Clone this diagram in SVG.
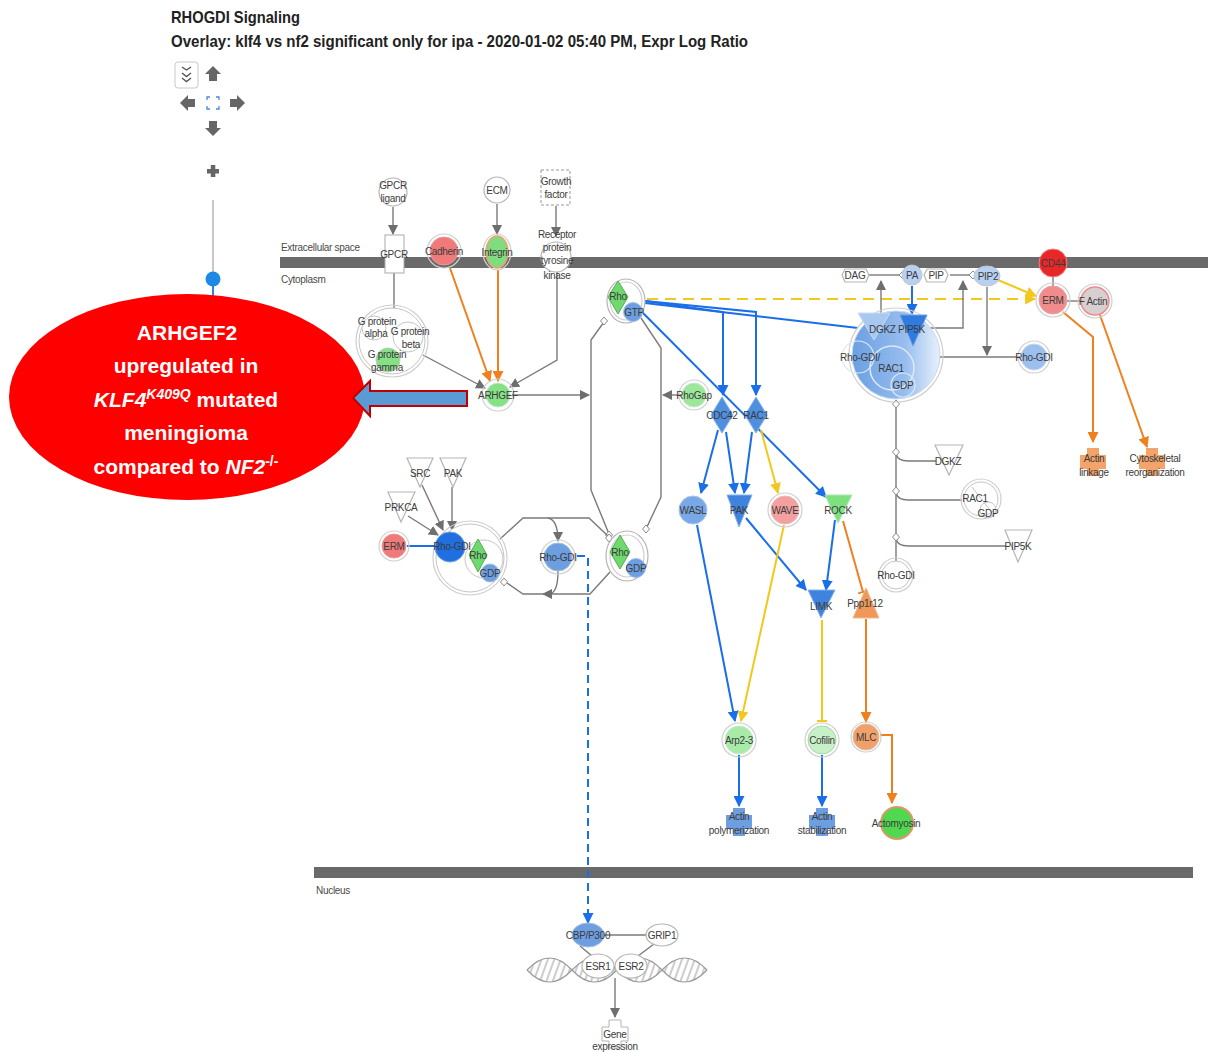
<svg xmlns="http://www.w3.org/2000/svg" width="1208" height="1052" viewBox="0 0 1208 1052">
<style>
  .lbl{font-family:"Liberation Sans",Arial,sans-serif;font-size:10px;fill:#3c3c3c;text-anchor:middle;letter-spacing:-0.3px}
  .cmp{font-family:"Liberation Sans",Arial,sans-serif;font-size:10px;fill:#4a4a4a;letter-spacing:-0.3px}
  .ttl{font-family:"Liberation Sans Narrow","Liberation Sans",Arial,sans-serif;font-weight:bold;fill:#222}
  .ring{fill:none;stroke:#cfcfcf;stroke-width:1.2}
  .outl{fill:#fff;stroke:#b5b5b5;stroke-width:1.2}
  .g{fill:none;stroke:#7a7a7a;stroke-width:1.4}
  .b{fill:none;stroke:#1a6ee8;stroke-width:2}
  .o{fill:none;stroke:#f0801e;stroke-width:2}
  .y{fill:none;stroke:#f2c81d;stroke-width:2}
  .dia{fill:#fff;stroke:#8a8a8a;stroke-width:1}
  .nav{fill:#666}
  .call{font-family:"Liberation Sans",Arial,sans-serif;font-weight:bold;font-size:21px;fill:#fff;text-anchor:middle}
</style>
<defs>
  <marker id="ah-g" viewBox="0 0 10 10" refX="9" refY="5" markerWidth="10" markerHeight="10" markerUnits="userSpaceOnUse" orient="auto"><path d="M0,0 L10,5 L0,10 z" fill="#6e6e6e"/></marker>
  <marker id="ah-b" viewBox="0 0 10 10" refX="9" refY="5" markerWidth="11" markerHeight="11" markerUnits="userSpaceOnUse" orient="auto"><path d="M0,0 L10,5 L0,10 z" fill="#1a6ee8"/></marker>
  <marker id="ah-o" viewBox="0 0 10 10" refX="9" refY="5" markerWidth="11" markerHeight="11" markerUnits="userSpaceOnUse" orient="auto"><path d="M0,0 L10,5 L0,10 z" fill="#f0801e"/></marker>
  <marker id="ah-y" viewBox="0 0 10 10" refX="9" refY="5" markerWidth="11" markerHeight="11" markerUnits="userSpaceOnUse" orient="auto"><path d="M0,0 L10,5 L0,10 z" fill="#f2c81d"/></marker>
  <marker id="tb-o" viewBox="0 0 10 10" refX="9" refY="5" markerWidth="10" markerHeight="10" markerUnits="userSpaceOnUse" orient="auto"><path d="M9,0 V10" stroke="#f0801e" stroke-width="2"/></marker>
  <marker id="tb-y" viewBox="0 0 10 10" refX="9" refY="5" markerWidth="10" markerHeight="10" markerUnits="userSpaceOnUse" orient="auto"><path d="M9,0 V10" stroke="#f2c81d" stroke-width="2"/></marker>
  <linearGradient id="cplx" x1="0" y1="0" x2="1" y2="0">
    <stop offset="0" stop-color="#6a9fe2"/><stop offset="0.6" stop-color="#97bdee"/><stop offset="1" stop-color="#e8f1fc"/>
  </linearGradient>
  <!-- function (cross) glyph -->
  <path id="fn" d="M-6,-14 h12 v7 h7 v14 h-7 v7 h-12 v-7 h-7 v-14 h7 z"/>
  <pattern id="rungs" width="6" height="30" patternUnits="userSpaceOnUse" patternTransform="rotate(20)">
    <line x1="3" y1="0" x2="3" y2="30" stroke="#9a9a9a" stroke-width="1"/>
  </pattern>
</defs>
<rect width="1208" height="1052" fill="#fff"/>

<!-- header -->
<text class="ttl" x="171" y="23" font-size="17" textLength="129" lengthAdjust="spacingAndGlyphs">RHOGDI Signaling</text>
<text class="ttl" x="171" y="47" font-size="16" textLength="577" lengthAdjust="spacingAndGlyphs">Overlay: klf4 vs nf2 significant only for ipa - 2020-01-02 05:40 PM, Expr Log Ratio</text>

<!-- navigation controls -->
<g id="nav">
  <rect x="175" y="62" width="23" height="26" rx="3" fill="#fff" stroke="#c8c8c8"/>
  <path d="M182,67 l4.5,3 l4.5,-3 M182,73 l4.5,3.5 l4.5,-3.5 M182,78 l4.5,3.5 l4.5,-3.5" fill="none" stroke="#555" stroke-width="1.4"/>
  <polygon class="nav" points="213,66 221,74 217,74 217,81 209,81 209,74 205,74"/>
  <polygon class="nav" points="213,136 221,128 217,128 217,121 209,121 209,128 205,128"/>
  <polygon class="nav" points="180,103 188,95 188,99 195,99 195,107 188,107 188,111"/>
  <polygon class="nav" points="245,103 237,95 237,99 230,99 230,107 237,107 237,111"/>
  <path d="M207,100 v-3 h3 M216,97 h3 v3 M219,106 v3 h-3 M210,109 h-3 v-3" fill="none" stroke="#4a8ad8" stroke-width="1.3"/>
  <rect class="nav" x="207" y="169" width="12" height="4.5"/>
  <rect class="nav" x="210.8" y="165" width="4.5" height="12"/>
  <line x1="213" y1="200" x2="213" y2="284" stroke="#c8c8c8" stroke-width="2"/>
  <line x1="213" y1="284" x2="213" y2="300" stroke="#1e88e5" stroke-width="2"/>
  <circle cx="213" cy="279" r="7.5" fill="#1e88e5"/>
</g>

<!-- compartments -->
<g id="compartments">
  <rect x="280" y="257" width="928" height="11" fill="#6a6a6a"/>
  <rect x="314" y="867" width="879" height="11" fill="#6a6a6a"/>
  <text class="cmp" x="281" y="251">Extracellular space</text>
  <text class="cmp" x="281" y="283">Cytoplasm</text>
  <text class="cmp" x="316" y="894">Nucleus</text>
</g>

<!-- DNA helix -->
<g id="dna">
  <path d="M527,970 Q549.5,946 572,970 Q549.5,994 527,970 Z M572,970 Q594.5,994 617,970 Q594.5,946 572,970 Z M617,970 Q639.5,946 662,970 Q639.5,994 617,970 Z M662,970 Q684.5,994 707,970 Q684.5,946 662,970 Z" fill="url(#rungs)" stroke="none"/>
  <path d="M527,970 Q549.5,946 572,970 Q594.5,994 617,970 Q639.5,946 662,970 Q684.5,994 707,970" fill="none" stroke="#9a9a9a" stroke-width="1.2"/>
  <path d="M527,970 Q549.5,994 572,970 Q594.5,946 617,970 Q639.5,994 662,970 Q684.5,946 707,970" fill="none" stroke="#9a9a9a" stroke-width="1.2"/>
</g>

<!-- connectors -->
<g id="connectors">
  <!-- membrane inputs -->
  <path class="g" d="M393,207 V234" marker-end="url(#ah-g)"/>
  <path class="g" d="M497,204 V234" marker-end="url(#ah-g)"/>
  <path class="g" d="M556,206 V236" marker-end="url(#ah-g)"/>
  <path class="g" d="M394,273 V308"/>
  <path class="o" d="M450,268 L490,381" marker-end="url(#ah-o)"/>
  <path class="o" d="M498,270 V381" marker-end="url(#ah-o)"/>
  <path class="g" d="M423,355 L485,388" marker-end="url(#ah-g)"/>
  <path class="g" d="M557,268 V360 L510,387" marker-end="url(#ah-g)"/>
  <path class="g" d="M512,395 H589" marker-end="url(#ah-g)"/>
  <path class="g" d="M682,395 H663" marker-end="url(#ah-g)"/>

  <!-- Rho GTP / GDP cycle -->
  <path class="g" d="M604,322 L591,340 V490 L609,534"/>
  <path class="g" d="M641,318 L661,348 V497 L646,529"/>
  <path class="dia" d="M604,317 l3.5,4 l-3.5,4 l-3.5,-4 z"/>
  <path class="dia" d="M609,531 l3.5,4 l-3.5,4 l-3.5,-4 z"/>
  <path class="dia" d="M646,525 l3.5,4 l-3.5,4 l-3.5,-4 z"/>

  <!-- Rho-GDI cycle -->
  <path class="g" d="M500,539 L523,518 H589 L608,536"/>
  <path class="dia" d="M609,534 l3.5,4 l-3.5,4 l-3.5,-4 z"/>
  <path class="g" d="M548,518 Q558,520 558,541" marker-end="url(#ah-g)"/>
  <path class="g" d="M558,571 Q558,592 550,594"/>
  <path class="g" d="M610,572 L590,594 H543" marker-end="url(#ah-g)"/>
  <path class="g" d="M545,594 H523 L507,583"/>
  <path class="dia" d="M504,578 l3.5,4 l-3.5,4 l-3.5,-4 z"/>
  <path class="g" d="M422,485 L443,530" marker-end="url(#ah-g)"/>
  <path class="g" d="M452,487 V530" marker-end="url(#ah-g)"/>
  <path class="g" d="M408,516 L438,535" marker-end="url(#ah-g)"/>
  <path class="b" d="M407,546 H436"/>
  <path class="b" d="M577,556 H588 V923" stroke-dasharray="8,5" marker-end="url(#ah-b)"/>

  <!-- Rho GTP effectors -->
  <path class="b" d="M645,301 L723,312 V395" marker-end="url(#ah-b)"/>
  <path class="b" d="M645,301 L756,312 V395" marker-end="url(#ah-b)"/>
  <path class="b" d="M645,303 L858,328"/>
  <path class="b" d="M642,312 L826,497" marker-end="url(#ah-b)"/>
  <path class="y" d="M647,299 H1035" stroke-dasharray="11,7" marker-end="url(#ah-y)"/>

  <!-- lipid branch -->
  <path class="g" d="M868,275 H899"/>
  <path class="dia" d="M903,271 l4,4 l-4,4 l-4,-4 z"/>
  <path class="g" d="M950,275 H969"/>
  <path class="dia" d="M973,271 l4,4 l-4,4 l-4,-4 z"/>
  <path class="g" d="M881,313 V281" marker-end="url(#ah-g)"/>
  <path class="g" d="M927,328 H963 V281" marker-end="url(#ah-g)"/>
  <path class="b" d="M912,286 V314" marker-end="url(#ah-b)"/>
  <path class="g" d="M939,357 H1020"/>
  <path class="g" d="M987,287 V355" marker-end="url(#ah-g)"/>
  <path class="y" d="M998,280 L1036,296" marker-end="url(#ah-y)"/>
  <path class="g" d="M1053,277 V286"/>
  <path class="g" d="M1067,301 H1082"/>
  <path class="o" d="M1063,312 L1093,337 V442" marker-end="url(#ah-o)"/>
  <path class="o" d="M1100,315 L1147,447" marker-end="url(#ah-o)"/>

  <!-- complex dissociation -->
  <path class="g" d="M896,404 V561"/>
  <path class="dia" d="M896,400 l3.5,4 l-3.5,4 l-3.5,-4 z"/>
  <path class="g" d="M896,454 Q898,461 908,461 H936"/>
  <path class="dia" d="M896,448 l3.5,4 l-3.5,4 l-3.5,-4 z"/>
  <path class="g" d="M896,493 Q898,500 908,500 H962"/>
  <path class="dia" d="M896,487 l3.5,4 l-3.5,4 l-3.5,-4 z"/>
  <path class="g" d="M896,539 Q898,546 908,546 H1006"/>
  <path class="dia" d="M896,533 l3.5,4 l-3.5,4 l-3.5,-4 z"/>

  <!-- CDC42 / RAC1 downstream -->
  <path class="b" d="M718,430 L701,493" marker-end="url(#ah-b)"/>
  <path class="b" d="M726,432 L735,493" marker-end="url(#ah-b)"/>
  <path class="b" d="M752,432 L744,493" marker-end="url(#ah-b)"/>
  <path class="y" d="M761,430 L778,493" marker-end="url(#ah-y)"/>
  <path class="b" d="M746,518 L806,590" marker-end="url(#ah-b)"/>
  <path class="b" d="M835,520 L826,590" marker-end="url(#ah-b)"/>
  <path class="o" d="M843,521 L863,592" stroke-width="1.6" marker-end="url(#tb-o)"/>
  <path class="b" d="M697,525 L735,721" marker-end="url(#ah-b)"/>
  <path class="y" d="M784,525 L741,721" marker-end="url(#ah-y)"/>
  <path class="y" d="M822,620 V721" stroke-width="1.6" marker-end="url(#tb-y)"/>
  <path class="o" d="M866,619 V722" marker-end="url(#ah-o)"/>
  <path class="o" d="M880,735 H892 V803" marker-end="url(#ah-o)"/>
  <path class="b" d="M739,755 V806" marker-end="url(#ah-b)"/>
  <path class="b" d="M822,755 V806" marker-end="url(#ah-b)"/>

  <!-- nuclear -->
  <path class="g" d="M604,935 H647"/>
  <path class="g" d="M580,946 L592,956"/>
  <path class="g" d="M654,944 L638,956"/>
  <path class="g" d="M615,978 V1017" marker-end="url(#ah-g)"/>
</g>

<!-- nodes: extracellular / membrane -->
<g id="gpcr-ligand"><circle class="outl" cx="393" cy="192" r="14"/><text class="lbl" x="393" y="189">GPCR</text><text class="lbl" x="393" y="202">ligand</text></g>
<g id="ecm"><circle class="outl" cx="497" cy="190" r="13"/><text class="lbl" x="497" y="194">ECM</text></g>
<g id="growth-factor"><rect x="541" y="170" width="29" height="35" fill="#fff" stroke="#999" stroke-dasharray="3,2"/><text class="lbl" x="556" y="185">Growth</text><text class="lbl" x="556" y="198">factor</text></g>
<g id="gpcr"><rect x="385" y="235" width="19" height="38" fill="#fff" stroke="#aaa"/><text class="lbl" x="394" y="258">GPCR</text></g>
<g id="cadherin"><circle cx="444" cy="251" r="17" class="ring"/><circle cx="444" cy="251" r="14" fill="#f07a7a" stroke="#e89a9a"/><text class="lbl" x="444" y="255">Cadherin</text></g>
<g id="integrin"><ellipse cx="497" cy="252" rx="14" ry="18" class="ring"/><ellipse cx="497" cy="252" rx="11" ry="16" fill="#7fdc7f" stroke="#f0a070" stroke-width="1.5"/><text class="lbl" x="497" y="256">Integrin</text></g>
<g id="rtk"><circle cx="556" cy="257" r="15" class="outl"/><text class="lbl" x="557" y="238">Receptor</text><text class="lbl" x="557" y="251">protein</text><text class="lbl" x="557" y="264">tyrosine</text><text class="lbl" x="557" y="279">kinase</text></g>
<g id="cd44"><circle cx="1053" cy="263" r="14" fill="#e82828" stroke="#f08080"/><text class="lbl" x="1053" y="267">CD44</text></g>

<!-- nodes: cytoplasm -->
<g id="g-protein">
  <circle cx="392" cy="341" r="36" class="ring"/>
  <circle cx="392" cy="341" r="33" fill="#fff" stroke="#c5c5c5"/>
  <circle cx="374" cy="328" r="12" fill="#fff" stroke="#c5c5c5"/>
  <circle cx="408" cy="337" r="15" fill="#fff" stroke="#c5c5c5"/>
  <circle cx="388" cy="360" r="12" fill="#86e086" stroke="#c5c5c5"/>
  <text class="lbl" x="377" y="325">G protein</text><text class="lbl" x="376" y="337">alpha</text>
  <text class="lbl" x="410" y="335">G protein</text><text class="lbl" x="411" y="348">beta</text>
  <text class="lbl" x="387" y="358">G protein</text><text class="lbl" x="387" y="371">gamma</text>
</g>
<g id="arhgef"><circle cx="498" cy="395" r="16" class="ring"/><circle cx="498" cy="395" r="12" fill="#86e086" stroke="#c8eac8"/><text class="lbl" x="498" y="399">ARHGEF</text></g>
<g id="rho-gtp">
  <ellipse cx="626" cy="301" rx="19" ry="22" class="outl"/>
  <ellipse cx="626" cy="301" rx="16" ry="19" class="ring"/>
  <path d="M618,281 L628,297 L618,314 L608,297 Z" fill="#6fd86f" stroke="#55b055"/>
  <circle cx="633" cy="312" r="9.5" fill="#6d9fe0" stroke="#9ebfe8"/>
  <text class="lbl" x="618" y="300">Rho</text><text class="lbl" x="634" y="316">GTP</text>
</g>
<g id="rho-gdp">
  <ellipse cx="627" cy="556" rx="21" ry="25" class="outl"/>
  <ellipse cx="627" cy="556" rx="17" ry="21" class="ring"/>
  <path d="M620,535 L630,552 L620,569 L610,552 Z" fill="#6fd86f" stroke="#55b055"/>
  <circle cx="636" cy="568" r="9.5" fill="#6d9fe0" stroke="#9ebfe8"/>
  <text class="lbl" x="620" y="556">Rho</text><text class="lbl" x="636" y="572">GDP</text>
</g>
<g id="rhogap"><circle cx="694" cy="395" r="15" class="ring"/><circle cx="694" cy="395" r="12" fill="#9be79b" stroke="#c8eac8"/><text class="lbl" x="694" y="399">RhoGap</text></g>
<g id="src"><path d="M407,458 H433 L420,487 Z" class="outl"/><text class="lbl" x="420" y="477">SRC</text></g>
<g id="pak-up"><path d="M440,458 H466 L453,487 Z" class="outl"/><text class="lbl" x="453" y="477">PAK</text></g>
<g id="prkca"><path d="M388,492 H415 L401,522 Z" class="outl"/><text class="lbl" x="401" y="511">PRKCA</text></g>
<g id="erm-left"><circle cx="394" cy="546" r="15" class="ring"/><circle cx="394" cy="546" r="12" fill="#f07a7a" stroke="#e89a9a"/><text class="lbl" x="394" y="550">ERM</text></g>
<g id="rhogdi-complex">
  <circle cx="470" cy="558" r="37" class="ring"/>
  <circle cx="470" cy="558" r="34" fill="#fff" stroke="#c5c5c5"/>
  <circle cx="450" cy="547" r="15" fill="#1f6fe0" stroke="#6d9fe0"/>
  <circle cx="484" cy="559" r="19" fill="#fff" stroke="#c5c5c5"/>
  <path d="M478,539 L487,555 L478,572 L469,555 Z" fill="#6fd86f" stroke="#55b055"/>
  <circle cx="490" cy="573" r="9" fill="#6d9fe0" stroke="#9ebfe8"/>
  <text class="lbl" x="452" y="550">Rho-GDI</text>
  <text class="lbl" x="478" y="559">Rho</text><text class="lbl" x="490" y="577">GDP</text>
</g>
<g id="rhogdi-mid"><circle cx="558" cy="557" r="17" class="ring"/><circle cx="558" cy="557" r="14" fill="#6d9fe0" stroke="#9ebfe8"/><text class="lbl" x="558" y="561">Rho-GDI</text></g>

<g id="dag"><path d="M845,269 H866 L869,275 L866,282 H845 L842,275 Z" class="outl"/><text class="lbl" x="855" y="279">DAG</text></g>
<g id="pa"><circle cx="912" cy="275" r="10" fill="#b7d1f3" stroke="#c5c5c5"/><text class="lbl" x="912" y="279">PA</text></g>
<g id="pip"><path d="M927,269 H945 L948,275 L945,282 H927 L924,275 Z" class="outl"/><text class="lbl" x="936" y="279">PIP</text></g>
<g id="pip2"><ellipse cx="987" cy="276" rx="13" ry="10" fill="#b7d1f3" stroke="#c5c5c5"/><text class="lbl" x="988" y="280">PIP2</text></g>
<g id="gdi-rac1-complex">
  <circle cx="896" cy="355" r="47" class="ring"/>
  <circle cx="896" cy="355" r="44" fill="url(#cplx)" stroke="#c8d8ee"/>
  <path d="M858,313 H890 L874,340 Z" fill="#a9c8f0" stroke="#c9dcf5"/>
  <path d="M900,315 H927 L913,346 Z" fill="#2f7be0" stroke="#6d9fe0"/>
  <circle cx="858" cy="357" r="16" fill="none" stroke="#dbe8f8" stroke-width="1.2"/>
  <circle cx="892" cy="368" r="22" fill="none" stroke="#dbe8f8" stroke-width="1.5"/>
  <circle cx="903" cy="385" r="12" fill="none" stroke="#dbe8f8" stroke-width="1.2"/>
  <text class="lbl" x="897" y="333">DGKZ PIP5K</text>
  <text class="lbl" x="860" y="361">Rho-GDI/</text>
  <text class="lbl" x="891" y="372">RAC1</text>
  <text class="lbl" x="903" y="389">GDP</text>
</g>
<g id="rhogdi-right"><circle cx="1034" cy="357" r="16" class="ring"/><circle cx="1034" cy="357" r="13" fill="#9cbfee" stroke="#c5d7f0"/><text class="lbl" x="1034" y="361">Rho-GDI</text></g>
<g id="erm-right"><circle cx="1053" cy="300" r="17" class="ring"/><circle cx="1053" cy="300" r="14" fill="#f08c8c" stroke="#e8a0a0"/><text class="lbl" x="1053" y="304">ERM</text></g>
<g id="f-actin"><circle cx="1095" cy="301" r="17" class="ring"/><circle cx="1095" cy="301" r="14" fill="#d8d0d0" stroke="#ee8a8a" stroke-width="1.5"/><text class="lbl" x="1093" y="305">F Actin</text></g>
<g id="actin-linkage"><use href="#fn" x="1093" y="462" fill="#f3a46a"/><text class="lbl" x="1094" y="462">Actin</text><text class="lbl" x="1094" y="476">linkage</text></g>
<g id="cytoskeletal-reorg"><use href="#fn" x="1152" y="462" fill="#f3a46a"/><text class="lbl" x="1155" y="462">Cytoskeletal</text><text class="lbl" x="1155" y="476">reorganization</text></g>

<g id="dgkz"><path d="M935,445 H963 L949,475 Z" class="outl"/><text class="lbl" x="948" y="465">DGKZ</text></g>
<g id="rac1-gdp"><circle cx="981" cy="499" r="20" class="ring"/><circle cx="981" cy="499" r="17" fill="#fff" stroke="#c5c5c5"/><path d="M972,487 L990,510" stroke="#c5c5c5" fill="none"/><circle cx="988" cy="510" r="8" fill="none" stroke="#c5c5c5"/><text class="lbl" x="975" y="502">RAC1</text><text class="lbl" x="988" y="517">GDP</text></g>
<g id="pip5k"><path d="M1005,530 H1032 L1018,562 Z" class="outl"/><text class="lbl" x="1018" y="550">PIP5K</text></g>
<g id="rhogdi-free"><circle cx="896" cy="575" r="17" class="ring"/><circle cx="896" cy="575" r="14" fill="#fff" stroke="#c5c5c5"/><text class="lbl" x="896" y="579">Rho-GDI</text></g>

<g id="cdc42"><path d="M722,397 L733,415 L722,433 L711,415 Z" fill="#4f8fe0" stroke="#8ab4ec"/><text class="lbl" x="722" y="419">CDC42</text></g>
<g id="rac1"><path d="M756,397 L767,415 L756,433 L745,415 Z" fill="#4f8fe0" stroke="#8ab4ec"/><text class="lbl" x="756" y="419">RAC1</text></g>
<g id="wasl"><circle cx="693" cy="510" r="14" fill="#78a8e6" stroke="#a8c6ef"/><text class="lbl" x="693" y="514">WASL</text></g>
<g id="pak"><path d="M727,495 H752 L739,527 Z" fill="#3f83de" stroke="#8ab4ec"/><text class="lbl" x="739" y="514">PAK</text></g>
<g id="wave"><circle cx="785" cy="510" r="17" class="ring"/><circle cx="785" cy="510" r="14" fill="#f4a0a0" stroke="#e8b8b8"/><text class="lbl" x="785" y="514">WAVE</text></g>
<g id="rock"><path d="M825,495 H852 L838,523 Z" fill="#7fe07f" stroke="#a8e8a8"/><text class="lbl" x="838" y="514">ROCK</text></g>
<g id="limk"><path d="M808,590 H835 L821,618 Z" fill="#3f83de" stroke="#8ab4ec"/><text class="lbl" x="821" y="610">LIMK</text></g>
<g id="ppp1r12"><path d="M866,588 L879,618 H853 Z" fill="#f0985a" stroke="#f4b888"/><text class="lbl" x="865" y="607">Ppp1r12</text></g>
<g id="arp23"><circle cx="739" cy="740" r="17" class="ring"/><circle cx="739" cy="740" r="14" fill="#a8eba8" stroke="#c8eac8"/><text class="lbl" x="739" y="744">Arp2-3</text></g>
<g id="cofilin"><circle cx="822" cy="740" r="17" class="ring"/><circle cx="822" cy="740" r="14" fill="#c8f0c8" stroke="#a8d8a8"/><text class="lbl" x="822" y="744">Cofilin</text></g>
<g id="mlc"><circle cx="866" cy="737" r="15" class="ring"/><circle cx="866" cy="737" r="13" fill="#f0a06a" stroke="#e8b898"/><text class="lbl" x="866" y="741">MLC</text></g>
<g id="actomyosin"><circle cx="897" cy="823" r="16" fill="#50d850" stroke="#d89a6a" stroke-width="2"/><text class="lbl" x="896" y="827">Actomyosin</text></g>
<g id="actin-polymerization"><use href="#fn" x="739" y="822" fill="#6d9fe0"/><text class="lbl" x="739" y="820">Actin</text><text class="lbl" x="739" y="834">polymerization</text></g>
<g id="actin-stabilization"><use href="#fn" x="822" y="822" fill="#6d9fe0"/><text class="lbl" x="822" y="820">Actin</text><text class="lbl" x="822" y="834">stabilization</text></g>

<!-- nodes: nucleus -->
<g id="cbp-p300"><ellipse cx="588" cy="935" rx="16" ry="12" fill="#6d9fe0" stroke="#9ebfe8"/><text class="lbl" x="588" y="939">CBP/P300</text></g>
<g id="grip1"><ellipse cx="662" cy="935" rx="16" ry="11" class="outl"/><text class="lbl" x="662" y="939">GRIP1</text></g>
<g id="esr1"><ellipse cx="598" cy="966" rx="16" ry="12" class="outl"/><text class="lbl" x="598" y="970">ESR1</text></g>
<g id="esr2"><ellipse cx="631" cy="966" rx="16" ry="12" class="outl"/><text class="lbl" x="631" y="970">ESR2</text></g>
<g id="gene-expression"><use href="#fn" x="615" y="1034" fill="#fff" stroke="#b5b5b5"/><text class="lbl" x="615" y="1038">Gene</text><text class="lbl" x="615" y="1050">expression</text></g>

<!-- callout -->
<g id="callout">
  <ellipse cx="187" cy="397" rx="178" ry="103" fill="#ff0000"/>
  <text class="call" x="187" y="340">ARHGEF2</text>
  <text class="call" x="186" y="373">upregulated in</text>
  <text class="call" x="186" y="407"><tspan font-style="italic">KLF4</tspan><tspan font-style="italic" font-size="14" dy="-8">K409Q</tspan><tspan dy="8"> mutated</tspan></text>
  <text class="call" x="186" y="440">meningioma</text>
  <text class="call" x="186" y="474">compared to <tspan font-style="italic">NF2</tspan><tspan font-size="14" dy="-8">-/-</tspan></text>
  <path d="M353,398 L370,381 V391 H467 V406 H370 V416 Z" fill="#5b9bd5" stroke="#c00000" stroke-width="2"/>
</g>
</svg>
